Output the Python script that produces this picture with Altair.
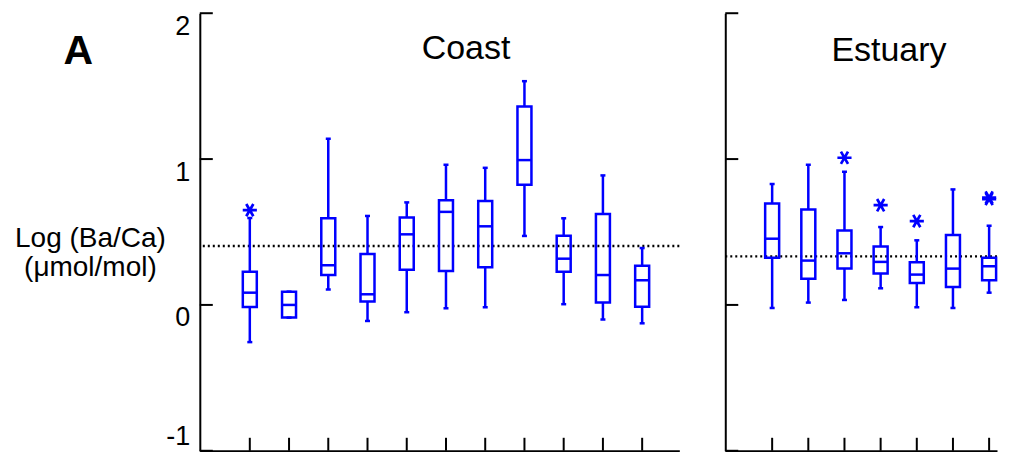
import altair as alt
import pandas as pd

# ---------------- data ----------------
coast_sites = list(range(1, 12))
coast_lo  = [-0.255, -0.087, 0.105, -0.110, -0.050, -0.023, -0.016, 0.473, 0.005, -0.100, -0.126]
coast_q1  = [-0.014, -0.087, 0.205, 0.023, 0.242, 0.233, 0.258, 0.824, 0.228, 0.016, -0.012]
coast_med = [0.084, 0.000, 0.272, 0.073, 0.484, 0.638, 0.539, 0.993, 0.317, 0.205, 0.169]
coast_q3  = [0.228, 0.091, 0.594, 0.349, 0.600, 0.717, 0.712, 1.361, 0.475, 0.623, 0.269]
coast_hi  = [0.596, 0.091, 1.139, 0.610, 0.703, 0.961, 0.940, 1.534, 0.594, 0.888, 0.390]
coast_out_site = [1]
coast_out_val = [0.650]
coast_ref = [0.404]

est_sites = list(range(1, 8))
est_lo  = [-0.021, 0.016, 0.034, 0.114, -0.016, -0.021, 0.084]
est_q1  = [0.324, 0.180, 0.249, 0.215, 0.151, 0.123, 0.169]
est_med = [0.454, 0.304, 0.354, 0.295, 0.208, 0.249, 0.265]
est_q3  = [0.695, 0.654, 0.511, 0.400, 0.292, 0.479, 0.324]
est_hi  = [0.829, 0.961, 0.913, 0.534, 0.443, 0.792, 0.543]
est_out_site = [3, 4, 5, 7, 7]
est_out_val = [1.009, 0.684, 0.575, 0.736, 0.726]
est_ref = [0.333]

y_ticks = [-1, 0, 1, 2]

coast_text = ["Coast", "A"]
coast_text_x = [6.51, -3.37]
coast_text_y = [1.685, 1.655]
coast_text_size = [34, 41]
coast_text_weight = ["normal", "bold"]

est_text = ["Estuary"]
est_text_x = [4.23]
est_text_y = [1.675]
est_text_size = [34]
est_text_weight = ["normal"]

BLUE = "#0000ff"
H = 438
FONT = "Liberation Sans"
STAR = "M-1,0L1,0M-0.5,-0.87L0.5,0.87M-0.5,0.87L0.5,-0.87"


def panel(sites, lo, q1, med, q3, hi, out_s, out_v, ref, xdom, width,
          txt, tx, ty, tsize, tweight, yaxis):
    box = pd.DataFrame({"site": sites, "lo": lo, "q1": q1, "med": med,
                        "q3": q3, "hi": hi})
    outl = pd.DataFrame({"site": out_s, "val": out_v})
    refd = pd.DataFrame({"ref": ref})
    ytk = pd.DataFrame({"v": y_ticks})

    xsc = alt.Scale(domain=xdom, nice=False, zero=False)
    ysc = alt.Scale(domain=[-1, 2], nice=False, zero=False)
    xax = alt.Axis(labels=False, ticks=False, grid=False, title=None,
                   domainColor="black", domainWidth=2)

    def X(f):
        return alt.X(f, type="quantitative", scale=xsc, axis=xax)

    def Y(f):
        return alt.Y(f, type="quantitative", scale=ysc, axis=yaxis)

    base = alt.Chart(box)
    refline = alt.Chart(refd).mark_rule(color="black", strokeWidth=2.4,
                                        strokeDash=[2, 3]).encode(y=Y("ref"))
    wlo = base.mark_rule(color=BLUE, strokeWidth=2.5).encode(
        x=X("site"), y=Y("lo"), y2="q1")
    whi = base.mark_rule(color=BLUE, strokeWidth=2.5).encode(
        x=X("site"), y=Y("q3"), y2="hi")
    caplo = base.mark_tick(color=BLUE, orient="horizontal", size=5,
                           thickness=2.5, opacity=1).encode(x=X("site"), y=Y("lo"))
    caphi = base.mark_tick(color=BLUE, orient="horizontal", size=5,
                           thickness=2.5, opacity=1).encode(x=X("site"), y=Y("hi"))
    rect = base.mark_bar(size=14, fill="white", fillOpacity=0, stroke=BLUE,
                         strokeWidth=2.5, strokeOpacity=1).encode(
        x=X("site"), y=Y("q1"), y2="q3")
    medl = base.mark_tick(color=BLUE, orient="horizontal", size=15,
                          thickness=2.5, opacity=1).encode(x=X("site"), y=Y("med"))
    stars = alt.Chart(outl).mark_point(shape=STAR, size=200, strokeWidth=2.7,
                                       color=BLUE, filled=False,
                                       opacity=1).encode(x=X("site"), y=Y("val"))
    xt = base.mark_rule(color="black", strokeWidth=2).encode(
        x=X("site"), y=alt.value(H), y2=alt.value(H - 13))
    yt = alt.Chart(ytk).mark_rule(color="black", strokeWidth=2).encode(
        y=Y("v"), x=alt.value(0), x2=alt.value(13))
    texts = []
    for t, x, y, s, w in zip(txt, tx, ty, tsize, tweight):
        d = pd.DataFrame({"x": [x], "y": [y], "t": [t]})
        texts.append(alt.Chart(d).mark_text(
            font=FONT, color="black", align="center", baseline="alphabetic",
            fontSize=s, fontWeight=w).encode(x=X("x"), y=Y("y"), text="t:N"))
    return alt.layer(refline, wlo, whi, caplo, caphi, rect, medl, stars,
                     xt, yt, *texts).properties(width=width, height=H)


coast_yaxis = alt.Axis(values=y_ticks, labelExpr="'' + datum.value",
                       labelFontSize=27,
                       labelBaseline={"condition": {"test": "datum.value == -1",
                                                    "value": "bottom"},
                                      "value": "top"},
                       labelPadding=10, ticks=False, tickSize=0, grid=False,
                       domainColor="black", domainWidth=2, labelColor="black",
                       labelFont=FONT,
                       title=["Log (Ba/Ca)", "(μmol/mol)"], titleAngle=0,
                       titleAlign="center", titleBaseline="middle",
                       titleX=-110, titleY=226, titleFontSize=28,
                       titleFontWeight="normal", titleLineHeight=29,
                       titleColor="black", titleFont=FONT)
est_yaxis = alt.Axis(values=y_ticks, labels=False, ticks=False, tickSize=0,
                     grid=False, title=None, domainColor="black", domainWidth=2)

c1 = panel(coast_sites, coast_lo, coast_q1, coast_med, coast_q3, coast_hi,
           coast_out_site, coast_out_val, coast_ref, [-0.147, 11.82], 480,
           coast_text, coast_text_x, coast_text_y, coast_text_size,
           coast_text_weight, coast_yaxis)
c2 = panel(est_sites, est_lo, est_q1, est_med, est_q3, est_hi,
           est_out_site, est_out_val, est_ref, [-0.158, 7.08], 272,
           est_text, est_text_x, est_text_y, est_text_size,
           est_text_weight, est_yaxis)

chart = alt.hconcat(c1, c2, spacing=42).properties(
    padding={"left": 6, "top": 4, "right": 0, "bottom": 0}
).configure(font=FONT, background="white").configure_view(
    stroke="transparent", strokeWidth=0)

chart.save("out.html", embed_options={"renderer": "svg", "actions": False})
